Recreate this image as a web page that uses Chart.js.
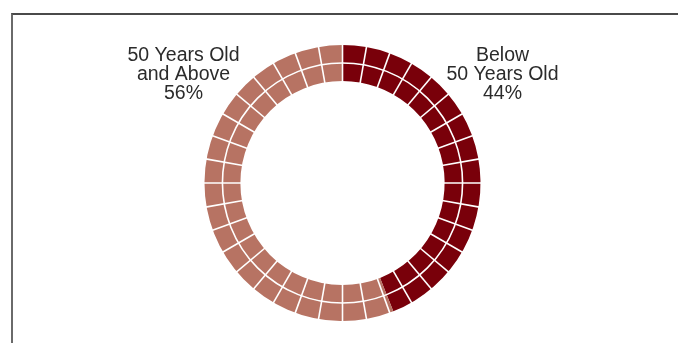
<!DOCTYPE html>
<html>
<head>
<meta charset="utf-8">
<script src="https://cdn.jsdelivr.net/npm/chart.js@4.4.1/dist/chart.umd.min.js"></script>
<style>
  html, body { margin: 0; padding: 0; background: #fff; }
  #wrap { position: relative; width: 678px; height: 343px; overflow: hidden; }
  #frame { position: absolute; left: 11px; top: 13px; width: 700px; height: 400px; border-top: 2px solid #4a4a4a; border-left: 2px solid #6a6a6a; }
  #title { position: absolute; left: 10px; top: -17px; font: bold 15px "Liberation Sans", Arial, sans-serif; color: #222; white-space: nowrap; }
  canvas { position: absolute; left: 0; top: 0; }
</style>
</head>
<body>
<div id="wrap">
  <div id="title">Figure 5: Directors by Age</div>
  <div id="frame"></div>
  <canvas id="chart" width="678" height="343"></canvas>
</div>
<script>
// ===== AGE PROFILE DOUGHNUT =====
const categories = [['Below', '50 Years Old'], ['50 Years Old', 'and Above']];
const shares = [44, 56];
const sliceColors = ['#79000a', '#b77363'];
const cellsPerRing = 36; // white grid cells around each ring

// white cell grid over both rings + the category labels
const cellGrid = {
  id: 'cellGrid',
  afterDatasetsDraw(chart) {
    const outer = chart.getDatasetMeta(0).data[0];
    const inner = chart.getDatasetMeta(1).data[0];
    if (!outer || !inner) return;
    const { x, y } = outer;
    const ctx = chart.ctx;
    ctx.save();
    ctx.strokeStyle = '#fff';
    ctx.lineWidth = 1.6;
    for (let k = 0; k < cellsPerRing; k++) {
      const a = -Math.PI / 2 + k * 2 * Math.PI / cellsPerRing;
      ctx.beginPath();
      ctx.moveTo(x + Math.cos(a) * (inner.innerRadius - 1), y + Math.sin(a) * (inner.innerRadius - 1));
      ctx.lineTo(x + Math.cos(a) * (outer.outerRadius + 1), y + Math.sin(a) * (outer.outerRadius + 1));
      ctx.stroke();
    }
    ctx.beginPath();
    ctx.arc(x, y, outer.innerRadius, 0, Math.PI * 2);
    ctx.stroke();

    // labels
    ctx.fillStyle = '#2b2b2b';
    ctx.font = '19.5px "Liberation Sans", Arial, sans-serif';
    ctx.textAlign = 'center';
    ctx.textBaseline = 'alphabetic';
    const spots = [{ dx: 160, dy: -122 }, { dx: -159, dy: -122 }];
    categories.forEach((lines, i) => {
      const rows = [...lines, shares[i] + '%'];
      rows.forEach((t, j) => ctx.fillText(t, x + spots[i].dx, y + spots[i].dy + j * 19));
    });
    ctx.restore();
  }
};

new Chart(document.getElementById('chart'), {
  type: 'doughnut',
  data: {
    labels: categories,
    datasets: [
      { data: shares, backgroundColor: sliceColors, borderWidth: 0 },
      { data: shares, backgroundColor: sliceColors, borderWidth: 0 }
    ]
  },
  options: {
    responsive: false,
    animation: false,
    cutout: '74%',
    layout: { padding: { top: 45, bottom: 22, left: 7, right: 0 } },
    plugins: { legend: { display: false }, tooltip: { enabled: false } },
    events: []
  },
  plugins: [cellGrid]
});
</script>
</body>
</html>
